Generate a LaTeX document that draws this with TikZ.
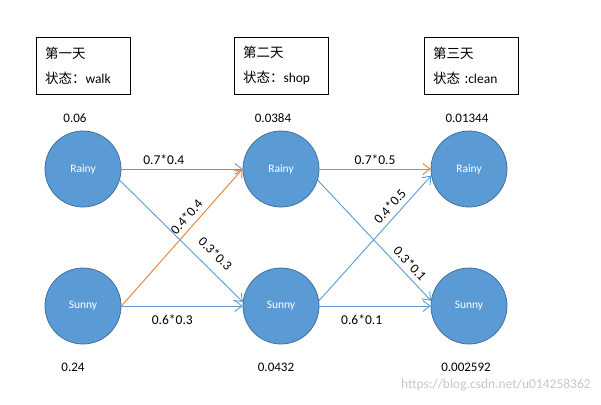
\documentclass[tikz,border=0pt]{standalone}
\usepackage{fontspec}
\setmainfont{Carlito}
\newfontfamily\cjk{Noto Sans CJK SC}
\usetikzlibrary{arrows.meta}
\definecolor{nodeblue}{HTML}{5B9BD5}
\definecolor{nodeedge}{HTML}{41719C}
\definecolor{lineblue}{HTML}{5B9BD5}
\definecolor{lineorange}{HTML}{ED7D31}
\begin{document}
\begin{tikzpicture}[x=1pt,y=-1pt,
  state/.style={circle,fill=nodeblue,draw=nodeedge,line width=0.8pt,minimum size=76pt,inner sep=0pt,text=white,font=\fontsize{11.5}{13}\selectfont},
  daybox/.style={draw=black,line width=0.9pt,minimum width=94pt,minimum height=57pt,inner xsep=9pt,inner ysep=0pt,text width=76pt,align=left,font=\fontsize{13.5}{25}\selectfont},
  prob/.style={font=\fontsize{13}{15}\selectfont,inner sep=0pt},
  lab/.style={font=\fontsize{13.5}{15}\selectfont,inner sep=1pt},
  tip/.style={-{Straight Barb[length=7pt,width=11pt,line width=0.9pt]}},
  blueedge/.style={draw=lineblue,line width=0.9pt,tip},
  orangeedge/.style={draw=lineorange,line width=0.9pt,tip},
  wmark/.style={font=\fontsize{13.5}{15}\selectfont,text=black!22,inner sep=0pt}
]
\useasboundingbox (0,0) rectangle (601,404);
\fill[white] (0,0) rectangle (601,404);

% day boxes
\node[daybox] (d1) at (83,65.5) {\cjk 第一天\\\cjk 状态：{\rmfamily walk}};
\node[daybox] (d2) at (281,65.5) {\cjk 第二天\\\cjk 状态：{\rmfamily shop}};
\node[daybox] (d3) at (471,65.5) {\cjk 第三天\\\cjk 状态 :{\rmfamily clean}};

% states
\node[state] (r1) at (83,169) {Rainy};
\node[state] (s1) at (83,306) {Sunny};
\node[state] (r2) at (281,169) {Rainy};
\node[state] (s2) at (281,306) {Sunny};
\node[state] (r3) at (469,169) {Rainy};
\node[state] (s3) at (469,306) {Sunny};

% probabilities
\node[prob] (p1) at (75,118) {0.06};
\node[prob] (p2) at (273,118) {0.0384};
\node[prob] (p3) at (467,118) {0.01344};
\node[prob] (q1) at (73,367) {0.24};
\node[prob] (q2) at (276,367) {0.0432};
\node[prob] (q3) at (466,367) {0.002592};

% transitions day 1 -> day 2
\draw[blueedge] (r1.east) -- node[lab,pos=0.35,above=3pt] {0.7*0.4} (r2.west);
\draw[blueedge] (s1.east) -- node[lab,pos=0.42,below=7pt] {0.6*0.3} (s2.west);
\draw[orangeedge] (s1.east) -- node[lab,pos=0.6,sloped,above=4pt] {0.4*0.4} (r2.west);
\draw[blueedge] (r1.-17) -- node[lab,pos=0.69,sloped,above=9pt] {0.3*0.3} (s2.174);

% transitions day 2 -> day 3
\draw[orangeedge] (r2.east) -- node[lab,pos=0.5,above=3pt] {0.7*0.5} (r3.west);
\draw[blueedge] (s2.east) -- node[lab,pos=0.38,below=7pt] {0.6*0.1} (s3.west);
\draw[blueedge] (s2.8) -- node[lab,pos=0.7,sloped,above=4pt] {0.4*0.5} (r3.190);
\draw[blueedge] (r2.-17) -- node[lab,pos=0.75,sloped,above=4pt] {0.3*0.1} (s3.172);

% watermark
\node[wmark,anchor=east] (wm) at (591,385) {https://blog.csdn.net/u014258362};
\end{tikzpicture}
\end{document}
